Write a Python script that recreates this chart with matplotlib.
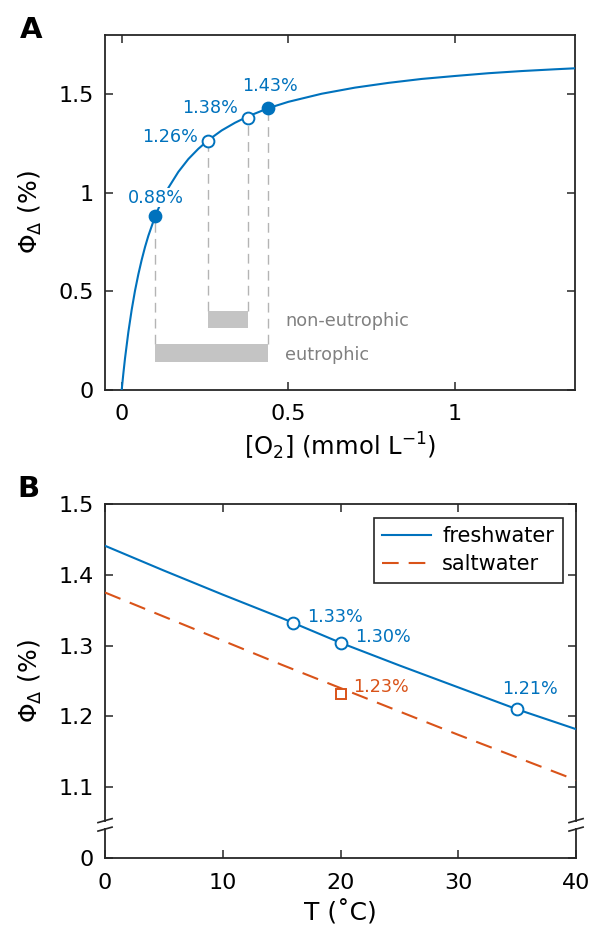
import matplotlib
matplotlib.use('Agg')
import matplotlib.pyplot as plt
import matplotlib.transforms as mtransforms

BLUE = '#0072BD'
ORANGE = '#D95319'
GREY_LINE = '#b4b4b4'
GREY_BAR = '#c4c4c4'
GREY_TEXT = '#808080'

# ---- panel A data ----
o2_curve = [0.0, 0.005, 0.01, 0.02, 0.03, 0.04, 0.05, 0.06, 0.07, 0.08, 0.10,
            0.12, 0.14, 0.17, 0.20, 0.23, 0.26, 0.30, 0.34, 0.38, 0.44, 0.50,
            0.60, 0.70, 0.80, 0.90, 1.00, 1.10, 1.20, 1.30, 1.36]
phi_curve = [0.0, 0.084, 0.161, 0.294, 0.407, 0.504, 0.587, 0.660, 0.725, 0.782, 0.879,
             0.959, 1.025, 1.106, 1.171, 1.223, 1.267, 1.316, 1.355, 1.388, 1.429, 1.461,
             1.502, 1.533, 1.557, 1.577, 1.592, 1.606, 1.617, 1.626, 1.631]
o2_pts = [0.10, 0.26, 0.38, 0.44]
phi_pts = [0.88, 1.26, 1.38, 1.43]
pt_filled = [True, False, False, True]
pt_labels = ['0.88%', '1.26%', '1.38%', '1.43%']
range_names = ['eutrophic', 'non-eutrophic']
range_lo = [0.10, 0.26]
range_hi = [0.44, 0.38]
range_ymid = [0.188, 0.356]

# ---- panel B data ----
temp = [0, 5, 10, 15, 20, 25, 30, 35, 40]
fresh = [1.441, 1.406, 1.372, 1.339, 1.304, 1.272, 1.241, 1.210, 1.182]
salt = [1.375, 1.341, 1.307, 1.273, 1.240, 1.207, 1.174, 1.142, 1.110]
fresh_pt_t = [16, 20, 35]
fresh_pt_v = [1.332, 1.304, 1.210]
fresh_pt_lab = ['1.33%', '1.30%', '1.21%']
salt_pt_t = [20]
salt_pt_v = [1.232]
salt_pt_lab = ['1.23%']

plt.rcParams['font.family'] = 'DejaVu Sans'
plt.rcParams['mathtext.fontset'] = 'dejavusans'

fig = plt.figure(figsize=(5.91, 9.32), dpi=100)
axA = fig.add_axes([0.1777, 0.5815, 0.7953, 0.381])
axB = fig.add_axes([0.1777, 0.0794, 0.797, 0.3798])


def style_axes(ax, xpad, ypad):
    for s in ax.spines.values():
        s.set_linewidth(1.3)
        s.set_color('#262626')
    ax.tick_params(direction='in', top=True, right=True, length=6, width=1.1,
                   labelsize=16, color='#262626')
    ax.tick_params(axis='x', pad=xpad)
    ax.tick_params(axis='y', pad=ypad)


# ================= Panel A =================
ax = axA
ax.plot(o2_curve, phi_curve, color=BLUE, lw=1.5, zorder=3)
for name, lo, hi, ym in zip(range_names, range_lo, range_hi, range_ymid):
    ax.barh(ym, hi - lo, left=lo, height=0.088, color=GREY_BAR, zorder=2)
    ax.text(0.491, ym - 0.008, name, color=GREY_TEXT, fontsize=12.7,
            ha='left', va='center')
for x, y, f in zip(o2_pts, phi_pts, pt_filled):
    bar_top = range_ymid[0] + 0.044 if f else range_ymid[1] + 0.044
    ax.plot([x, x], [bar_top, y], color=GREY_LINE, lw=1.0,
            linestyle=(0, (7, 4.5)), zorder=1)
    ax.plot(x, y, 'o', markersize=8.5, markeredgewidth=1.4, markeredgecolor=BLUE,
            markerfacecolor=BLUE if f else 'white', zorder=4)

lab_pos = [(0.102, 0.976, 'center'), (0.2275, 1.281, 'right'),
           (0.350, 1.429, 'right'), (0.446, 1.540, 'center')]
for (lx, ly, ha), lab in zip(lab_pos, pt_labels):
    ax.text(lx, ly, lab, color=BLUE, fontsize=12.7, ha=ha, va='center', zorder=5,
            bbox=dict(facecolor='white', edgecolor='none', pad=0.6))

ax.set_xlim(-0.05, 1.36)
ax.set_ylim(0, 1.8)
ax.set_xticks([0, 0.5, 1])
ax.set_xticklabels(['0', '0.5', '1'])
ax.set_yticks([0, 0.5, 1, 1.5])
ax.set_yticklabels(['0', '0.5', '1', '1.5'])
style_axes(ax, 10, 8)
ax.set_xlabel(r'[O$_2$] (mmol L$^{-1}$)', fontsize=17.5)
ax.xaxis.set_label_coords(0.5, -0.115)
ax.set_ylabel(r'$\Phi_{\Delta}$ (%)', fontsize=18)
ax.yaxis.set_label_coords(-0.13, 0.5)

# ================= Panel B =================
ax = axB
ax.plot(temp, fresh, color=BLUE, lw=1.5, label='freshwater', zorder=3)
ax.plot(temp, salt, color=ORANGE, lw=1.5, linestyle=(0, (8, 4.8)),
        label='saltwater', zorder=3)
ax.plot(fresh_pt_t, fresh_pt_v, 'o', markersize=8.5, markeredgewidth=1.4,
        markeredgecolor=BLUE, markerfacecolor='white', zorder=4)
ax.plot(salt_pt_t, salt_pt_v, 's', markersize=7.5, markeredgewidth=1.4,
        markeredgecolor=ORANGE, markerfacecolor='white', zorder=4)

b_pos = [(17.2, 1.341, 'left'), (21.2, 1.3127, 'left'), (36.1, 1.2394, 'center')]
for (lx, ly, ha), lab in zip(b_pos, fresh_pt_lab):
    ax.text(lx, ly, lab, color=BLUE, fontsize=12.7, ha=ha, va='center', zorder=5)
ax.text(21.06, 1.241, salt_pt_lab[0], color=ORANGE, fontsize=12.7,
        ha='left', va='center', zorder=5)

ax.set_xlim(0, 40)
ax.set_ylim(1.0, 1.5)
ax.set_xticks([0, 10, 20, 30, 40])
ax.set_yticks([1.0, 1.1, 1.2, 1.3, 1.4, 1.5])
ax.set_yticklabels(['0', '1.1', '1.2', '1.3', '1.4', '1.5'])
style_axes(ax, 11, 8)
ax.set_xlabel('T (˚C)', fontsize=18)
ax.xaxis.set_label_coords(0.5, -0.12)
ax.set_ylabel(r'$\Phi_{\Delta}$ (%)', fontsize=18)
ax.yaxis.set_label_coords(-0.13, 0.5)

leg = ax.legend(loc='upper right', fontsize=15, frameon=True, fancybox=False,
                framealpha=1, edgecolor='#262626', handlelength=2.35,
                borderaxespad=0.65, borderpad=0.4, labelspacing=0.4,
                handletextpad=0.55)
leg.get_frame().set_linewidth(1.2)

# axis break marks on both spines
trans = mtransforms.blended_transform_factory(ax.transAxes, ax.transData)
for xs in (0.0, 1.0):
    ax.plot([xs, xs], [1.0425, 1.0505], color='white', lw=3.0, transform=trans,
            clip_on=False, zorder=6, solid_capstyle='butt')
    for yc in (1.0528, 1.0408):
        ax.plot([xs - 0.015, xs + 0.015], [yc - 0.0028, yc + 0.0028],
                color='#262626', lw=1.2, transform=trans, clip_on=False, zorder=7)

fig.text(0.034, 1 - 16 / 932, 'A', fontsize=21, fontweight='bold', ha='left', va='top')
fig.text(0.029, 1 - 475 / 932, 'B', fontsize=21, fontweight='bold', ha='left', va='top')

fig.savefig('out.png', dpi=100)
